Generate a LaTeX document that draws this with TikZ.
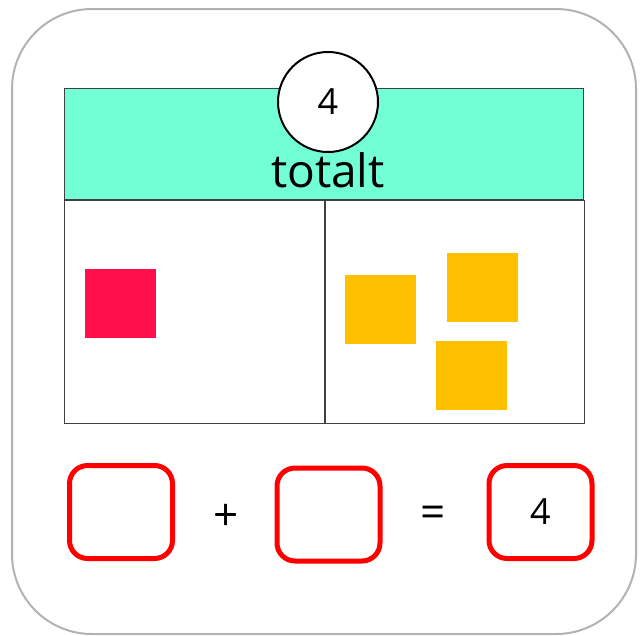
\documentclass[tikz,border=0pt]{standalone}
\usepackage{fontspec}
\setmainfont{Open Sans}
\usepackage{xcolor}
\usetikzlibrary{positioning}
\definecolor{headteal}{RGB}{115,255,214}
\definecolor{tilered}{RGB}{255,15,75}
\definecolor{tileyellow}{RGB}{255,192,0}
\definecolor{ansred}{RGB}{255,0,0}
\tikzset{
  frame/.style  ={draw=black!30, line width=2pt, rounded corners=80pt},
  head/.style   ={rectangle, draw=black!75, line width=1.2pt, fill=headteal,
                  minimum width=519pt, minimum height=111pt, inner sep=0pt},
  cell/.style   ={rectangle, draw=black!75, line width=1.2pt,
                  minimum width=259.5pt, minimum height=223pt, inner sep=0pt},
  total/.style  ={circle, draw=black, line width=2pt, fill=white,
                  minimum size=100pt, inner sep=0pt,
                  font=\fontsize{36}{40}\selectfont},
  word/.style   ={font=\fontsize{46}{50}\selectfont, inner sep=0pt},
  redtile/.style={rectangle, fill=tilered, minimum width=71pt,
                  minimum height=69pt, inner sep=0pt},
  ylwtile/.style={rectangle, fill=tileyellow, minimum width=71pt,
                  minimum height=69pt, inner sep=0pt},
  ansbox/.style ={rectangle, draw=ansred, line width=5pt, rounded corners=18pt,
                  minimum width=103pt, minimum height=93pt, inner sep=0pt,
                  font=\fontsize{36}{40}\selectfont},
  op/.style     ={font=\fontsize{44}{48}\selectfont, inner sep=0pt},
}
\begin{document}
\begin{tikzpicture}[x=1pt, y=-1pt]
  \useasboundingbox (0,0) rectangle (644,635);
  % outer card
  \draw[frame] (12,9) rectangle (636,634);

  % part-whole table
  \node[head, anchor=north west] (header) at (64,88) {};
  \node[cell, anchor=north west] (leftpart) at (header.south west) {};
  \node[cell, anchor=north west] (rightpart) at (leftpart.north east) {};
  \node[word, anchor=base] (totalword) at (328,187) {totalt};
  \node[total] (totalnum) at (328,102) {4};

  % counters
  \node[redtile] (red1) at (120.5,303.5) {};
  \node[ylwtile] (ylw1) at (380.5,309) {};
  \node[ylwtile] (ylw2) at (482.5,287) {};
  \node[ylwtile] (ylw3) at (471.5,375) {};

  % number sentence
  \node[ansbox] (ans1) at (121,512) {};
  \node[op] (plus) at (226,517) {+};
  \node[ansbox] (ans2) at (328.5,514.5) {};
  \node[op] (equals) at (433,517) {=};
  \node[ansbox] (ans3) at (540.5,512) {4};
\end{tikzpicture}
\end{document}
